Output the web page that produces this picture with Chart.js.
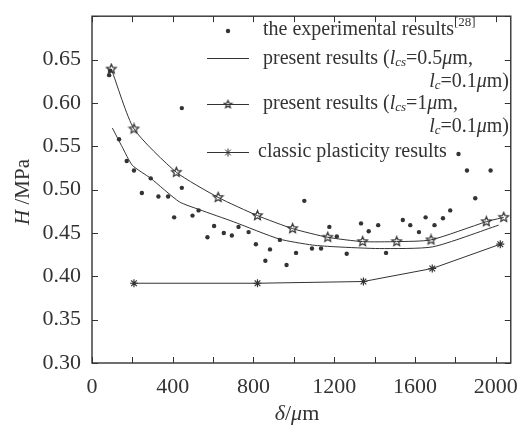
<!DOCTYPE html>
<html>
<head>
<meta charset="utf-8">
<script src="https://cdn.jsdelivr.net/npm/chart.js@4/dist/chart.umd.min.js"></script>
<style>
  body { margin: 0; background: #fff; }
  canvas { display: block; }
</style>
</head>
<body>
<canvas id="hChart" width="521" height="425"></canvas>
<script>
// experimental points [28]
const expDelta = [85, 90, 134, 172, 208, 247, 291, 329, 377, 407, 445, 445, 498, 528, 572, 605, 653, 693, 726, 776, 812, 859, 882, 931, 964, 1011, 1052, 1090, 1135, 1176, 1213, 1262, 1333, 1371, 1418, 1457, 1540, 1577, 1620, 1653, 1697, 1739, 1775, 1816, 1858, 1899, 1975];
const expH = [0.632, 0.637, 0.558, 0.533, 0.522, 0.496, 0.513, 0.492, 0.492, 0.468, 0.594, 0.502, 0.470, 0.476, 0.445, 0.458, 0.450, 0.447, 0.457, 0.451, 0.437, 0.418, 0.431, 0.442, 0.413, 0.427, 0.487, 0.432, 0.432, 0.457, 0.446, 0.426, 0.461, 0.452, 0.459, 0.427, 0.465, 0.459, 0.451, 0.468, 0.459, 0.467, 0.476, 0.541, 0.522, 0.490, 0.522];

// present results, lcs = 0.5um
const lcs05Delta = [101, 150, 200, 291, 432, 531, 700, 928, 1093, 1209, 1424, 1689, 2015];
const lcs05H = [0.571, 0.549, 0.528, 0.513, 0.486, 0.477, 0.463, 0.443, 0.436, 0.434, 0.432, 0.434, 0.459];

// present results, lcs = 1um
const lcs1Delta = [96, 208, 418, 625, 820, 994, 1168, 1341, 1510, 1680, 1954, 2040];
const lcs1H = [0.639, 0.570, 0.520, 0.491, 0.470, 0.455, 0.445, 0.440, 0.440, 0.442, 0.463, 0.468];

// classic plasticity
const classicDelta = [208, 820, 1345, 1686, 2023];
const classicH = [0.392, 0.392, 0.394, 0.409, 0.437];

const xTickLabels = [0, 400, 800, 1200, 1600, 2000];
const yTickLabels = [0.30, 0.35, 0.40, 0.45, 0.50, 0.55, 0.60, 0.65];

const ink = '#333';
const serif = "'Liberation Serif', 'DejaVu Serif', serif";

function pts(xs, ys) {
  return xs.map((v, i) => ({ x: v, y: ys[i] }));
}

// open five point star marker
function makeStar(r) {
  const c = document.createElement('canvas');
  const s = Math.ceil(r * 2 + 3);
  c.width = s; c.height = s;
  const g = c.getContext('2d');
  g.strokeStyle = ink;
  g.lineWidth = 1.2;
  g.beginPath();
  for (let i = 0; i < 10; i++) {
    const rr = i % 2 === 0 ? r : r * 0.45;
    const a = -Math.PI / 2 + i * Math.PI / 5;
    const px = s / 2 + rr * Math.cos(a), py = s / 2 + rr * Math.sin(a);
    if (i === 0) g.moveTo(px, py); else g.lineTo(px, py);
  }
  g.closePath();
  g.stroke();
  return c;
}
const starImg = makeStar(5);
const starSmall = makeStar(4);

const LS = 20; // legend font size

function drawRuns(ctx, runs, x, y, align) {
  let w = 0;
  runs.forEach(r => {
    ctx.font = (r.i ? 'italic ' : '') + (r.s || LS) + 'px ' + serif;
    r.w = ctx.measureText(r.t).width;
    w += r.w;
  });
  let cx = align === 'right' ? x - w : (align === 'center' ? x - w / 2 : x);
  runs.forEach(r => {
    ctx.font = (r.i ? 'italic ' : '') + (r.s || LS) + 'px ' + serif;
    ctx.fillText(r.t, cx, y + (r.dy || 0));
    cx += r.w;
  });
}

function asterisk(ctx, x, y, r) {
  ctx.beginPath();
  for (let i = 0; i < 4; i++) {
    const a = i * Math.PI / 4;
    ctx.moveTo(x - r * Math.cos(a), y - r * Math.sin(a));
    ctx.lineTo(x + r * Math.cos(a), y + r * Math.sin(a));
  }
  ctx.stroke();
}

const decor = {
  id: 'decor',
  afterDraw(chart) {
    const { ctx, chartArea: a, scales: { x, y } } = chart;
    ctx.save();
    ctx.strokeStyle = ink;
    ctx.fillStyle = ink;
    ctx.lineWidth = 1.4;
    ctx.strokeRect(a.left, a.top, a.right - a.left, a.bottom - a.top);

    // inward ticks on all four sides
    ctx.lineWidth = 1;
    ctx.beginPath();
    x.ticks.forEach(t => {
      const px = Math.round(x.getPixelForValue(t.value)) + 0.5;
      ctx.moveTo(px, a.bottom); ctx.lineTo(px, a.bottom - 6);
      ctx.moveTo(px, a.top); ctx.lineTo(px, a.top + 6);
    });
    y.ticks.forEach(t => {
      const py = Math.round(y.getPixelForValue(t.value)) + 0.5;
      ctx.moveTo(a.left, py); ctx.lineTo(a.left + 6, py);
      ctx.moveTo(a.right, py); ctx.lineTo(a.right - 6, py);
    });
    ctx.stroke();

    // axis titles
    ctx.textBaseline = 'middle';
    drawRuns(ctx, [{ t: 'δ', i: true, s: 22 }, { t: '/', s: 22 }, { t: 'μ', i: true, s: 22 }, { t: 'm', s: 22 }], 297, 414, 'center');
    ctx.save();
    ctx.translate(23, 192);
    ctx.rotate(-Math.PI / 2);
    drawRuns(ctx, [{ t: 'H', i: true, s: 21 }, { t: ' /MPa', s: 21 }], 0, 0, 'center');
    ctx.restore();

    // legend
    const lx0 = 207, lx1 = 249, mx = 228, tx = 263;
    ctx.beginPath();
    ctx.arc(mx, 31, 2.2, 0, Math.PI * 2);
    ctx.fill();
    drawRuns(ctx, [{ t: 'the experimental results' }, { t: '[28]', s: 13, dy: -7 }], tx, 30, 'left');

    ctx.lineWidth = 1;
    ctx.beginPath();
    ctx.moveTo(lx0, 58.5); ctx.lineTo(lx1, 58.5);
    ctx.moveTo(lx0, 104.5); ctx.lineTo(lx1, 104.5);
    ctx.moveTo(lx0, 152.5); ctx.lineTo(lx1, 152.5);
    ctx.stroke();
    ctx.drawImage(starSmall, mx - starSmall.width / 2, 104.5 - starSmall.height / 2);
    asterisk(ctx, mx, 152.5, 4);

    drawRuns(ctx, [{ t: 'present results (' }, { t: 'l', i: true }, { t: 'cs', i: true, s: 13, dy: 4 },
      { t: '=0.5' }, { t: 'μ', i: true }, { t: 'm,' }], tx, 59, 'left');
    drawRuns(ctx, [{ t: 'l', i: true }, { t: 'c', i: true, s: 13, dy: 4 }, { t: '=0.1' }, { t: 'μ', i: true }, { t: 'm)' }], 509, 82, 'right');
    drawRuns(ctx, [{ t: 'present results (' }, { t: 'l', i: true }, { t: 'cs', i: true, s: 13, dy: 4 },
      { t: '=1' }, { t: 'μ', i: true }, { t: 'm,' }], tx, 104, 'left');
    drawRuns(ctx, [{ t: 'l', i: true }, { t: 'c', i: true, s: 13, dy: 4 }, { t: '=0.1' }, { t: 'μ', i: true }, { t: 'm)' }], 509, 127, 'right');
    drawRuns(ctx, [{ t: 'classic plasticity results' }], 258, 152, 'left');

    ctx.restore();
  }
};

const ctx = document.getElementById('hChart').getContext('2d');
new Chart(ctx, {
  type: 'scatter',
  data: {
    datasets: [
      {
        label: 'the experimental results',
        data: pts(expDelta, expH),
        pointRadius: 2.2,
        pointBackgroundColor: ink,
        pointBorderWidth: 0,
        showLine: false
      },
      {
        label: 'present results (lcs=0.5μm, lc=0.1μm)',
        data: pts(lcs05Delta, lcs05H),
        showLine: true,
        borderColor: ink,
        borderWidth: 1,
        tension: 0.2,
        pointRadius: 0
      },
      {
        label: 'present results (lcs=1μm, lc=0.1μm)',
        data: pts(lcs1Delta, lcs1H),
        showLine: true,
        borderColor: ink,
        borderWidth: 1,
        tension: 0.2,
        pointStyle: starImg,
        pointRadius: 5
      },
      {
        label: 'classic plasticity results',
        data: pts(classicDelta, classicH),
        showLine: true,
        borderColor: ink,
        borderWidth: 1,
        pointStyle: 'star',
        pointRadius: 4,
        pointBorderColor: ink,
        pointBorderWidth: 1.2
      }
    ]
  },
  options: {
    responsive: false,
    animation: false,
    layout: { padding: { top: 12, right: 10, left: 0, bottom: 0 } },
    plugins: { legend: { display: false }, tooltip: { enabled: false } },
    scales: {
      x: {
        type: 'linear',
        min: 0,
        max: 2075,
        grid: { display: false },
        border: { display: false },
        afterFit: s => { s.height = 62; },
        ticks: {
          stepSize: 200,
          includeBounds: false,
          maxRotation: 0,
          autoSkip: false,
          padding: 3,
          color: ink,
          font: { family: serif, size: 22 },
          callback: v => xTickLabels.includes(v) ? String(v) : ''
        }
      },
      y: {
        min: 0.30,
        max: 0.70,
        grid: { display: false },
        border: { display: false },
        afterFit: s => { s.width = 92; },
        ticks: {
          stepSize: 0.05,
          autoSkip: false,
          padding: 3,
          color: ink,
          font: { family: serif, size: 22 },
          callback: v => {
            const lab = yTickLabels.find(t => Math.abs(t - v) < 1e-6);
            return lab === undefined ? '' : lab.toFixed(2);
          }
        }
      }
    }
  },
  plugins: [decor]
});
</script>
</body>
</html>
